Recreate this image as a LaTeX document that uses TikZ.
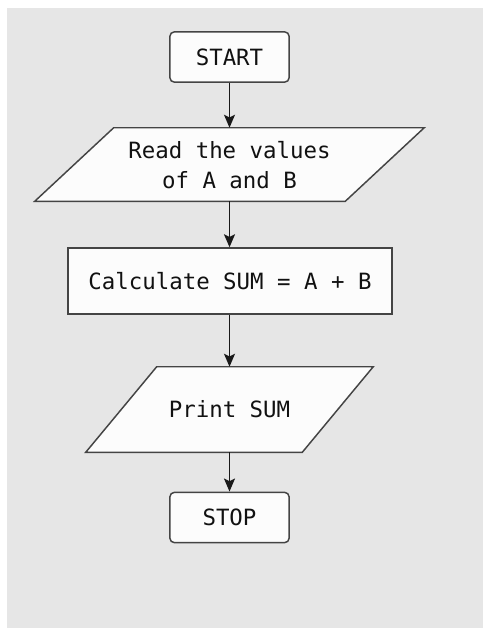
\documentclass[tikz,border=0pt]{standalone}
\usepackage{fontspec}
\newfontfamily\flowmono{DejaVu Sans Mono}
\usetikzlibrary{arrows.meta}
\definecolor{pagegray}{HTML}{E6E6E6}
\definecolor{boxline}{HTML}{444444}
\definecolor{boxfill}{HTML}{FCFCFC}
\definecolor{inktext}{HTML}{111111}
\tikzset{
  basebox/.style={draw=boxline, fill=boxfill, line width=1.1pt, inner sep=0pt,
    text=inktext, font=\flowmono\fontsize{16.8}{22.5}\selectfont, align=center},
  terminal/.style={basebox, rounded corners=3.5pt, minimum width=89.5pt, minimum height=37.8pt},
  process/.style={basebox, minimum width=243pt, minimum height=49.5pt},
  ioframe/.style={draw=none, fill=none, inner sep=0pt},
  iolabel/.style={text=inktext, font=\flowmono\fontsize{16.8}{22.5}\selectfont, align=center, inner sep=0pt},
  ioshape/.style={draw=boxline, fill=boxfill, line width=1.1pt},
  flow/.style={draw=black!90, line width=1.2pt, -{Stealth[length=9.75pt, width=8.25pt, inset=2pt]}}
}
\begin{document}
\begin{tikzpicture}[x=0.75pt, y=-0.75pt]
  % page and backdrop
  \useasboundingbox (0,0) rectangle (483,629);
  \fill[white] (0,0) rectangle (483,629);
  \fill[pagegray] (7,8) rectangle (483,628);

  % start
  \node[terminal] (start) at (229.5,57) {START};

  % input parallelogram
  \node[ioframe, minimum width=232.5pt, minimum height=54.75pt] (read) at (229.5,164.5) {};
  \draw[ioshape] ([xshift=29.6pt]read.north west) -- ([xshift=29.6pt]read.north east)
    -- ([xshift=-29.6pt]read.south east) -- ([xshift=-29.6pt]read.south west) -- cycle;
  \node[iolabel] (readtxt) at (229.5,165) {Read the values\\of A and B};

  % calculation
  \node[process] (calc) at (230,281) {Calculate SUM = A + B};

  % output parallelogram
  \node[ioframe, minimum width=162pt, minimum height=63.75pt] (print) at (229.5,409.5) {};
  \draw[ioshape] ([xshift=26.6pt]print.north west) -- ([xshift=26.6pt]print.north east)
    -- ([xshift=-26.6pt]print.south east) -- ([xshift=-26.6pt]print.south west) -- cycle;
  \node[iolabel] (printtxt) at (229.5,409.5) {Print SUM};

  % stop
  \node[terminal] (stop) at (229.5,517.5) {STOP};

  % connectors
  \draw[flow] (start.south) -- (read.north);
  \draw[flow] (read.south) -- (calc.north -| read.south);
  \draw[flow] (calc.south -| read.south) -- (print.north);
  \draw[flow] (print.south) -- (stop.north);
\end{tikzpicture}
\end{document}
